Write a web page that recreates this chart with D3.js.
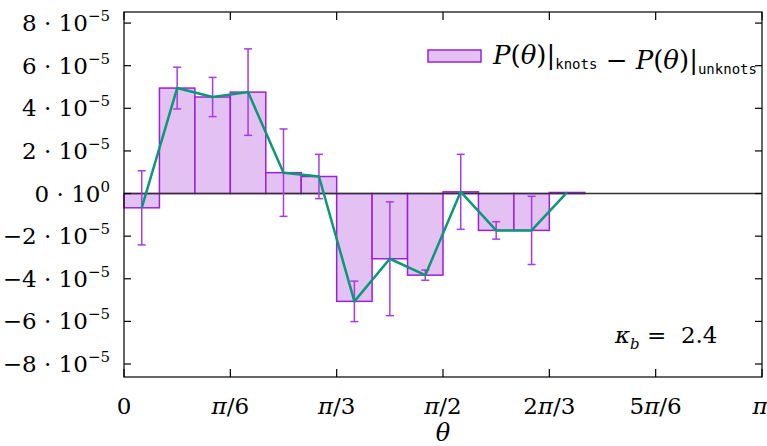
<!DOCTYPE html>
<html>
<head>
<meta charset="utf-8">
<script src="https://cdn.jsdelivr.net/npm/d3@7"></script>
<style>
  body { margin: 0; background: #fff; }
  svg { display: block; }
  svg text { font-family: "DejaVu Serif", "Liberation Serif", serif; fill: #000; white-space: pre; }
</style>
</head>
<body>
<div id="chart"></div>
<script>
// bins of 10 degrees, from 0 to 130 degrees
var binIndex = [0, 1, 2, 3, 4, 5, 6, 7, 8, 9, 10, 11, 12];
// P(theta)|knots - P(theta)|unknots, in units of 1e-5
var diffValues = [-0.67, 4.95, 4.53, 4.76, 0.98, 0.80, -5.06, -3.06, -3.83, 0.08, -1.73, -1.73, 0.05];
var diffErrors = [1.74, 0.98, 0.92, 2.03, 2.05, 1.04, 0.95, 2.67, 0.24, 1.76, 0.41, 1.60, 0];

var yTicks = [-8, -6, -4, -2, 0, 2, 4, 6, 8];
var xTicks = [0, 1, 2, 3, 4, 5, 6];           // multiples of pi/6
var xTickLabels = ['0', 'π/6', 'π/3', 'π/2', '2π/3', '5π/6', 'π'];
var kappa = '2.4';

var width = 767, height = 446;
var margin = {top: 12, right: 5, bottom: 69, left: 124};
var binWidth = Math.PI / 18;

var svg = d3.select('#chart').append('svg')
  .attr('width', width)
  .attr('height', height);

var x = d3.scaleLinear()
  .domain([0, Math.PI])
  .range([margin.left, width - margin.right]);

var y = d3.scaleLinear()
  .domain([-8.61, 8.52])
  .range([height - margin.bottom, margin.top]);

var purple = '#9b1fdc';

// bars
svg.append('g').selectAll('rect')
  .data(binIndex)
  .enter()
  .append('rect')
  .attr('x', function(i) { return x(i * binWidth); })
  .attr('width', function(i) { return x((i + 1) * binWidth) - x(i * binWidth); })
  .attr('y', function(i) { return y(Math.max(0, diffValues[i])); })
  .attr('height', function(i) { return Math.abs(y(diffValues[i]) - y(0)); })
  .attr('fill', '#e3c1f3')
  .attr('stroke', purple)
  .attr('stroke-width', 1.5);

// zero line
svg.append('line')
  .attr('x1', x(0)).attr('x2', x(Math.PI))
  .attr('y1', y(0)).attr('y2', y(0))
  .attr('stroke', '#333')
  .attr('stroke-width', 1.5);

// error bars
var errs = svg.append('g')
  .attr('stroke', '#a63ce6')
  .attr('stroke-width', 1.5);

binIndex.forEach(function(i) {
  if (!diffErrors[i]) return;
  var cx = x((i + 0.5) * binWidth);
  var lo = y(diffValues[i] - diffErrors[i]);
  var hi = y(diffValues[i] + diffErrors[i]);
  errs.append('line').attr('x1', cx).attr('x2', cx).attr('y1', lo).attr('y2', hi);
  errs.append('line').attr('x1', cx - 4).attr('x2', cx + 4).attr('y1', lo).attr('y2', lo);
  errs.append('line').attr('x1', cx - 4).attr('x2', cx + 4).attr('y1', hi).attr('y2', hi);
});

// green line through bin centres
var line = d3.line()
  .x(function(i) { return x((i + 0.5) * binWidth); })
  .y(function(i) { return y(diffValues[i]); });

svg.append('path')
  .datum(binIndex)
  .attr('d', line)
  .attr('fill', 'none')
  .attr('stroke', '#0b9874')
  .attr('stroke-width', 2.5)
  .attr('stroke-linejoin', 'round');

// frame and ticks (mirrored, pointing inwards)
var x0 = x(0), x1 = x(Math.PI), y0 = y.range()[0], y1 = y.range()[1];
var frame = svg.append('g').attr('stroke', '#000').attr('stroke-width', 1.2);

frame.append('rect')
  .attr('x', x0).attr('y', y1)
  .attr('width', x1 - x0).attr('height', y0 - y1)
  .attr('fill', 'none');

xTicks.forEach(function(t) {
  var px = x(t * Math.PI / 6);
  frame.append('line').attr('x1', px).attr('x2', px).attr('y1', y0).attr('y2', y0 - 8);
  frame.append('line').attr('x1', px).attr('x2', px).attr('y1', y1).attr('y2', y1 + 8);
});

yTicks.forEach(function(t) {
  var py = y(t);
  frame.append('line').attr('x1', x0).attr('x2', x0 + 7).attr('y1', py).attr('y2', py);
  frame.append('line').attr('x1', x1).attr('x2', x1 - 7).attr('y1', py).attr('y2', py);
});

// y tick labels
yTicks.forEach(function(t) {
  var label = svg.append('text')
    .attr('x', 110)
    .attr('y', y(t) + 8)
    .attr('text-anchor', 'end')
    .style('font-size', '23px');
  label.append('tspan').text((t < 0 ? '−' : '') + Math.abs(t) + ' · 10');
  label.append('tspan')
    .attr('dy', -10)
    .style('font-size', '15px')
    .text(t === 0 ? '0' : '−5');
});

// x tick labels
xTicks.forEach(function(t, i) {
  var lab = xTickLabels[i];
  var txt = svg.append('text')
    .attr('x', x(t * Math.PI / 6) - (i === 6 ? 2 : 0))
    .attr('y', 414)
    .attr('text-anchor', 'middle')
    .style('font-size', '23px');
  lab.split('').forEach(function(ch) {
    txt.append('tspan')
      .style('font-style', ch === 'π' ? 'italic' : 'normal')
      .text(ch);
  });
});

// axis title
svg.append('text')
  .attr('x', 443)
  .attr('y', 441)
  .attr('text-anchor', 'middle')
  .style('font-size', '24px')
  .style('font-style', 'italic')
  .text('θ');

// legend
svg.append('rect')
  .attr('x', 428).attr('y', 50)
  .attr('width', 53).attr('height', 12)
  .attr('fill', '#e3c1f3')
  .attr('stroke', purple)
  .attr('stroke-width', 1.5);

var leg = svg.append('text')
  .attr('x', 493)
  .attr('y', 64)
  .style('font-size', '26px');

function legendTerm(sub) {
  leg.append('tspan').style('font-style', 'italic').text('P');
  leg.append('tspan').text('(');
  leg.append('tspan').style('font-style', 'italic').text('θ');
  leg.append('tspan').text(')|');
  leg.append('tspan')
    .attr('dy', 5)
    .style('font-family', '"DejaVu Sans Mono", "Liberation Mono", monospace')
    .style('font-size', '14px')
    .text(sub);
  leg.append('tspan').attr('dy', -5).text('');
}
legendTerm('knots');
leg.append('tspan').text(' − ');
legendTerm('unknots');

// kappa label
var kap = svg.append('text')
  .attr('x', 615)
  .attr('y', 343)
  .style('font-size', '23px');
kap.append('tspan').style('font-style', 'italic').text('κ');
kap.append('tspan')
  .attr('dy', 6)
  .style('font-size', '15px')
  .style('font-style', 'italic')
  .text('b');
kap.append('tspan').attr('dy', -6).text(' =  ' + kappa);
</script>
</body>
</html>
